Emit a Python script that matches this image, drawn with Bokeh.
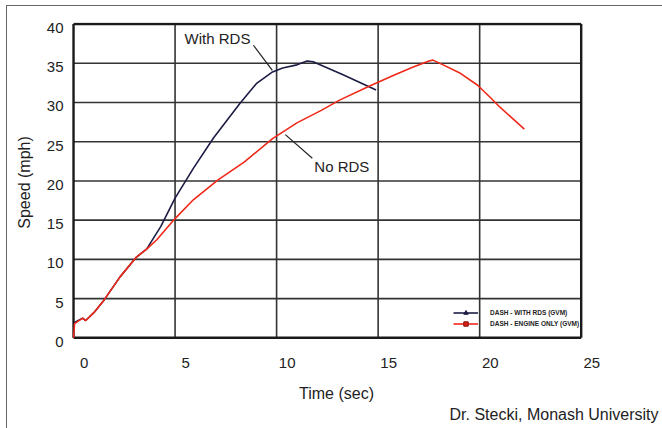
from bokeh.plotting import figure
from bokeh.models import (Range1d, FixedTicker, LinearAxis, Title, Label, Legend, LegendItem)
from bokeh.embed import file_html
from bokeh.resources import INLINE

# ---- data ----
t_rds = [0.0, 0.45, 0.6, 1.0, 1.5, 2.3, 3.1, 3.6, 4.3, 5.0, 5.9, 6.9, 8.2, 9.0, 9.8, 10.3, 11.0, 11.5, 11.8, 13.3, 14.9]
v_rds = [1.9, 2.5, 2.2, 3.2, 4.8, 7.8, 10.3, 11.3, 14.2, 17.8, 21.6, 25.5, 29.9, 32.4, 33.9, 34.4, 34.8, 35.3, 35.2, 33.5, 31.6]

t_eng = [0.0, 0.05, 0.45, 0.6, 1.0, 1.5, 2.3, 3.1, 3.6, 4.1, 5.0, 5.9, 7.1, 8.4, 9.8, 11.0, 12.2, 13.1, 14.5,
         15.8, 16.7, 17.5, 17.7, 18.2, 19.0, 19.9, 20.5, 21.0, 21.6, 22.2]
v_eng = [0.0, 1.8, 2.5, 2.2, 3.2, 4.8, 7.8, 10.3, 11.3, 12.5, 15.2, 17.6, 20.1, 22.4, 25.4, 27.4, 29.0, 30.3, 32.0,
         33.5, 34.5, 35.3, 35.4, 34.8, 33.8, 32.2, 30.7, 29.4, 28.0, 26.6]

series_labels = ["DASH - WITH RDS (GVM)", "DASH - ENGINE ONLY (GVM)"]

x_ticks = [0, 5, 10, 15, 20, 25]
y_ticks = [0, 5, 10, 15, 20, 25, 30, 35, 40]

# callout annotations
callout_text = ["With RDS", "No RDS"]
callout_x = [8.71, 11.86]
callout_y = [38.2, 21.8]
callout_align = ["right", "left"]
leader_x0 = [8.86, 10.43]
leader_y0 = [37.3, 25.9]
leader_x1 = [9.79, 11.76]
leader_y1 = [34.1, 22.9]

credit = "Dr. Stecki, Monash University"

FONT = "Liberation Sans"
TXT = "#222222"

# the tick labels of the original sit a little right of / below their grid lines
X_LABEL_SHIFT = 0.52
Y_LABEL_SHIFT = 0.5
x_lo, x_hi = -0.1, 26.0
y_lo, y_hi = -0.6, 40.2

p = figure(frame_width=530, frame_height=320,
           x_range=Range1d(x_lo, x_hi), y_range=Range1d(y_lo, y_hi),
           extra_x_ranges={"lab": Range1d(x_lo - X_LABEL_SHIFT, x_hi - X_LABEL_SHIFT)},
           extra_y_ranges={"lab": Range1d(y_lo + Y_LABEL_SHIFT, y_hi + Y_LABEL_SHIFT)},
           x_axis_location=None, y_axis_location=None,
           output_backend="svg", toolbar_location=None,
           min_border_left=64, min_border_right=61, min_border_top=16, min_border_bottom=86,
           margin=(5, 0, 0, 6),
           styles={"border-left": "1px solid #666666", "border-top": "1px solid #666666"},
           background_fill_color="white", border_fill_color="white")

p.outline_line_color = None
p.xgrid.visible = False
p.ygrid.visible = False

# grid + frame, built from the tick lists
n, m = len(x_ticks), len(y_ticks)
p.segment(x0=x_ticks[1:-1], y0=[y_ticks[0]] * (n - 2), x1=x_ticks[1:-1], y1=[y_ticks[-1]] * (n - 2),
          line_color="#333333", line_width=1.6)
p.segment(x0=[x_ticks[0]] * (m - 2), y0=y_ticks[1:-1], x1=[x_ticks[-1]] * (m - 2), y1=y_ticks[1:-1],
          line_color="#333333", line_width=1.6)
p.segment(x0=[x_ticks[0], x_ticks[-1], x_ticks[0], x_ticks[0]],
          y0=[y_ticks[0], y_ticks[0], y_ticks[0], y_ticks[-1]],
          x1=[x_ticks[0], x_ticks[-1], x_ticks[-1], x_ticks[-1]],
          y1=[y_ticks[-1], y_ticks[-1], y_ticks[0], y_ticks[-1]],
          line_color="#1a1a1a", line_width=2.4)

# axes
xax = LinearAxis(x_range_name="lab", ticker=FixedTicker(ticks=x_ticks))
xax.axis_line_color = None
xax.major_tick_line_color = None
xax.minor_tick_line_color = None
xax.major_tick_out = 0
xax.major_label_standoff = 15
xax.major_label_text_font = FONT
xax.major_label_text_font_size = "15px"
xax.major_label_text_color = TXT
xax.axis_label = "Time (sec)"
xax.axis_label_text_font = FONT
xax.axis_label_text_font_size = "16px"
xax.axis_label_text_font_style = "normal"
xax.axis_label_text_color = TXT
xax.axis_label_standoff = 14
p.add_layout(xax, "below")

yax = LinearAxis(y_range_name="lab", ticker=FixedTicker(ticks=y_ticks))
yax.axis_line_color = None
yax.major_tick_line_color = None
yax.minor_tick_line_color = None
yax.major_tick_out = 0
yax.major_label_standoff = 8
yax.major_label_text_font = FONT
yax.major_label_text_font_size = "15px"
yax.major_label_text_color = TXT
yax.axis_label = "Speed (mph)"
yax.axis_label_text_font = FONT
yax.axis_label_text_font_size = "16px"
yax.axis_label_text_font_style = "normal"
yax.axis_label_text_color = TXT
yax.axis_label_standoff = 11
p.add_layout(yax, "left")

# series
C_RDS = "#1c1c44"
C_ENG = "#f02818"
r_rds = p.line(t_rds, v_rds, line_color=C_RDS, line_width=1.6)
r_eng = p.line(t_eng, v_eng, line_color=C_ENG, line_width=1.6)
# marker renderers used only for the legend swatches (no visible points)
nan = float("nan")
m_rds = p.scatter(x=[nan], y=[nan], marker="triangle", size=7, fill_color=C_RDS, line_color=C_RDS)
m_eng = p.scatter(x=[nan], y=[nan], marker="square", size=6, fill_color="#e02010", line_color="#801010")

legend = Legend(items=[LegendItem(label=series_labels[0], renderers=[r_rds, m_rds]),
                       LegendItem(label=series_labels[1], renderers=[r_eng, m_eng])],
                location=(382, 13), padding=0, margin=0, spacing=0,
                glyph_width=25, glyph_height=11, label_height=11, label_standoff=12,
                label_text_font=FONT, label_text_font_size="6.5px", label_text_font_style="bold",
                label_text_color=TXT, background_fill_alpha=0, border_line_alpha=0)
p.add_layout(legend)

# callouts
p.segment(x0=leader_x0, y0=leader_y0, x1=leader_x1, y1=leader_y1, line_color="#222222", line_width=1.2)
for txt, cx, cy, al in zip(callout_text, callout_x, callout_y, callout_align):
    p.add_layout(Label(x=cx, y=cy, text=txt, text_align=al, text_baseline="middle",
                       text_font=FONT, text_font_size="15px", text_color=TXT))

p.add_layout(Title(text=credit, align="right", offset=-57, standoff=-2,
                   text_font=FONT, text_font_size="16px", text_font_style="normal",
                   text_color=TXT), "below")

open("out.html", "w").write(file_html(p, INLINE))
